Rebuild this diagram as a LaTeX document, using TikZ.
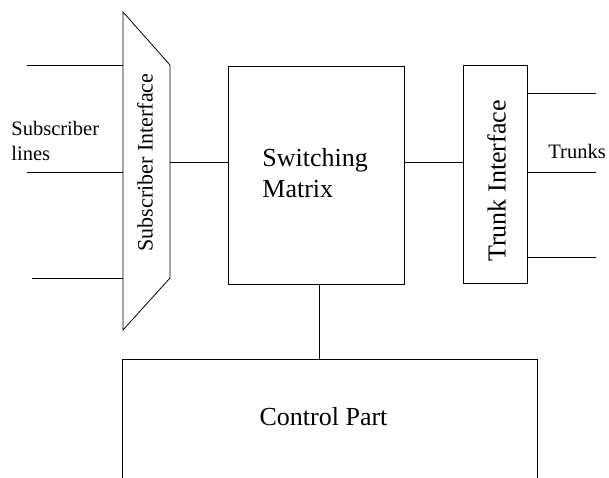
\documentclass[tikz,border=0pt]{standalone}
\usepackage{fontspec}
\setmainfont{Liberation Serif}
\begin{document}
\begin{tikzpicture}[x=1pt, y=-1pt, line width=0.8pt,
    small/.style={font=\fontsize{20.5}{25}\selectfont, inner sep=0pt},
    large/.style={font=\fontsize{26}{31}\selectfont, inner sep=0pt},
    block/.style={draw, inner sep=0pt, anchor=north west}]
  \useasboundingbox (0,0) rectangle (609,477);

  % subscriber interface (trapezoid)
  \coordinate (si1) at (123,12);
  \coordinate (si2) at (170,65);
  \coordinate (si3) at (170,278);
  \coordinate (si4) at (123,330);
  \draw (si1) -- (si2) -- (si3) -- (si4) -- cycle;
  \node[inner sep=0pt, font=\fontsize{22}{26}\selectfont, rotate=90] (silab) at (145,162.5) {Subscriber Interface};

  % subscriber lines
  \coordinate (s1) at (27,65);
  \coordinate (s2) at (27,172);
  \coordinate (s3) at (32,278);
  \foreach \s in {s1,s2,s3} \draw (\s) -- (\s -| si1);
  \node[small, align=left, anchor=north west] (sublab) at (11,121) {Subscriber\\lines};

  % switching matrix
  \node[block, minimum width=176pt, minimum height=218pt] (sm) at (228,66) {};
  \node[large, align=left, anchor=north west] (smlab) at (262,148) {Switching\\Matrix};

  % trunk interface
  \node[block, minimum width=64pt, minimum height=218pt] (ti) at (463,65) {};
  \node[large, rotate=90] (tilab) at (496.5,181) {Trunk Interface};

  % trunks
  \coordinate (t1) at (596,93);
  \coordinate (t2) at (596,172);
  \coordinate (t3) at (596,257);
  \foreach \t in {t1,t2,t3} \draw (\t -| ti.east) -- (\t);
  \node[small, anchor=base west] (trlab) at (548,158) {Trunks};

  % control part (open at the bottom)
  \node[inner sep=0pt, anchor=north west, minimum width=415pt, minimum height=118pt] (cp) at (122,359) {};
  \draw (cp.south west) -- (cp.north west) -- (cp.north east) -- (cp.south east);
  \node[large, anchor=base] (cplab) at (323.5,425) {Control Part};

  % links between the blocks
  \coordinate (bus) at (170,162);
  \draw (bus) -- (bus -| sm.west);
  \draw (sm.east |- bus) -- (ti.west |- bus);
  \coordinate (down) at (319,284);
  \draw (down) -- (down |- cp.north);
\end{tikzpicture}
\end{document}
